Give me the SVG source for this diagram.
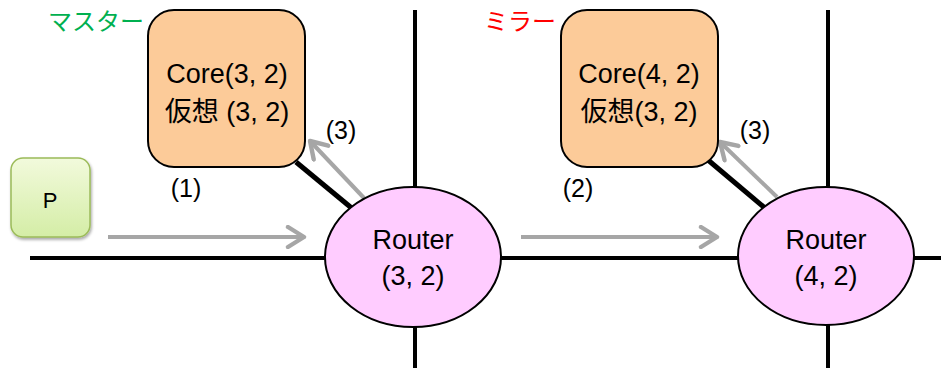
<svg xmlns="http://www.w3.org/2000/svg" width="941" height="368" viewBox="0 0 941 368">
  <style>
    .grid { stroke: #000; stroke-width: 4; fill: none; }
    .link { stroke: #000; stroke-width: 5; fill: none; }
    .flow { stroke: #A6A6A6; stroke-width: 4; fill: none; marker-end: url(#chev); }
    .core { fill: #FCCB99; stroke: #000; stroke-width: 2; }
    .router { fill: #FFCCFF; stroke: #000; stroke-width: 2; }
    text { font-family: "Liberation Sans", "Noto Sans CJK JP", sans-serif; fill: #000; }
    .lbl { font-size: 27px; text-anchor: middle; }
    .step { font-size: 25px; text-anchor: middle; }
  </style>
  <defs>
    <marker id="chev" viewBox="0 0 12 12" refX="10" refY="6" markerWidth="6" markerHeight="6" markerUnits="strokeWidth" orient="auto">
      <polyline points="2,1 10,6 2,11" fill="none" stroke="#A6A6A6" stroke-width="2.2" stroke-linecap="round" stroke-linejoin="round"/>
    </marker>
    <linearGradient id="pfill" x1="0" y1="0" x2="0" y2="1">
      <stop offset="0" stop-color="#F2FADC"/>
      <stop offset="1" stop-color="#D4EDA6"/>
    </linearGradient>
    <filter id="shadow" x="-20%" y="-20%" width="150%" height="150%">
      <feGaussianBlur in="SourceAlpha" stdDeviation="1.5"/>
      <feOffset dx="1" dy="2"/>
      <feComponentTransfer><feFuncA type="linear" slope="0.35"/></feComponentTransfer>
      <feMerge><feMergeNode/><feMergeNode in="SourceGraphic"/></feMerge>
    </filter>
  </defs>

  <!-- mesh wires and core links -->
  <g id="connectors">
    <line class="grid" x1="30" y1="258" x2="326" y2="258"/>
    <line class="grid" x1="500" y1="258" x2="738" y2="258"/>
    <line class="grid" x1="912" y1="258" x2="941" y2="258"/>
    <line class="grid" x1="415" y1="10" x2="415" y2="190"/>
    <line class="grid" x1="415" y1="326" x2="415" y2="368"/>
    <line class="grid" x1="828" y1="10" x2="828" y2="190"/>
    <line class="grid" x1="828" y1="322" x2="828" y2="368"/>
    <line class="link" x1="296" y1="162" x2="354" y2="210"/>
    <line class="link" x1="708" y1="160" x2="765" y2="208"/>
    <!-- packet flow -->
    <line class="flow" x1="108" y1="237" x2="304" y2="237"/>
    <line class="flow" x1="521" y1="237" x2="717" y2="237"/>
    <line class="flow" x1="364" y1="198" x2="310" y2="141"/>
    <line class="flow" x1="777" y1="197" x2="720" y2="142"/>
  </g>

  <g id="master-label">
    <text x="96" y="30" style="font-size:24px;fill:#00B050;text-anchor:middle">マスター</text>
  </g>
  <g id="mirror-label">
    <text x="520" y="30" style="font-size:24px;fill:#FF0000;text-anchor:middle">ミラー</text>
  </g>

  <g id="core-3-2">
    <rect class="core" x="148" y="10" width="157" height="157" rx="26"/>
    <text class="lbl" x="227" y="83">Core(3, 2)</text>
    <text class="lbl" x="227" y="121">仮想 (3, 2)</text>
  </g>

  <g id="core-4-2">
    <rect class="core" x="561" y="10" width="157" height="157" rx="26"/>
    <text class="lbl" x="639" y="83">Core(4, 2)</text>
    <text class="lbl" x="639" y="121">仮想(3, 2)</text>
  </g>

  <g id="packet">
    <rect x="11" y="158" width="79" height="79" rx="12" fill="url(#pfill)" stroke="#9BBB59" stroke-width="1.5" filter="url(#shadow)"/>
    <text x="50" y="208" style="font-size:22px;text-anchor:middle">P</text>
  </g>

  <g id="router-3-2">
    <ellipse class="router" cx="413" cy="257" rx="88" ry="70"/>
    <text class="lbl" x="413" y="249">Router</text>
    <text class="lbl" x="413" y="285">(3, 2)</text>
  </g>

  <g id="router-4-2">
    <ellipse class="router" cx="826" cy="256" rx="88" ry="69"/>
    <text class="lbl" x="826" y="249">Router</text>
    <text class="lbl" x="826" y="285">(4, 2)</text>
  </g>

  <g id="steps">
    <text class="step" x="186" y="197">(1)</text>
    <text class="step" x="578" y="197">(2)</text>
    <text class="step" x="341" y="139">(3)</text>
    <text class="step" x="755" y="139">(3)</text>
  </g>
</svg>
